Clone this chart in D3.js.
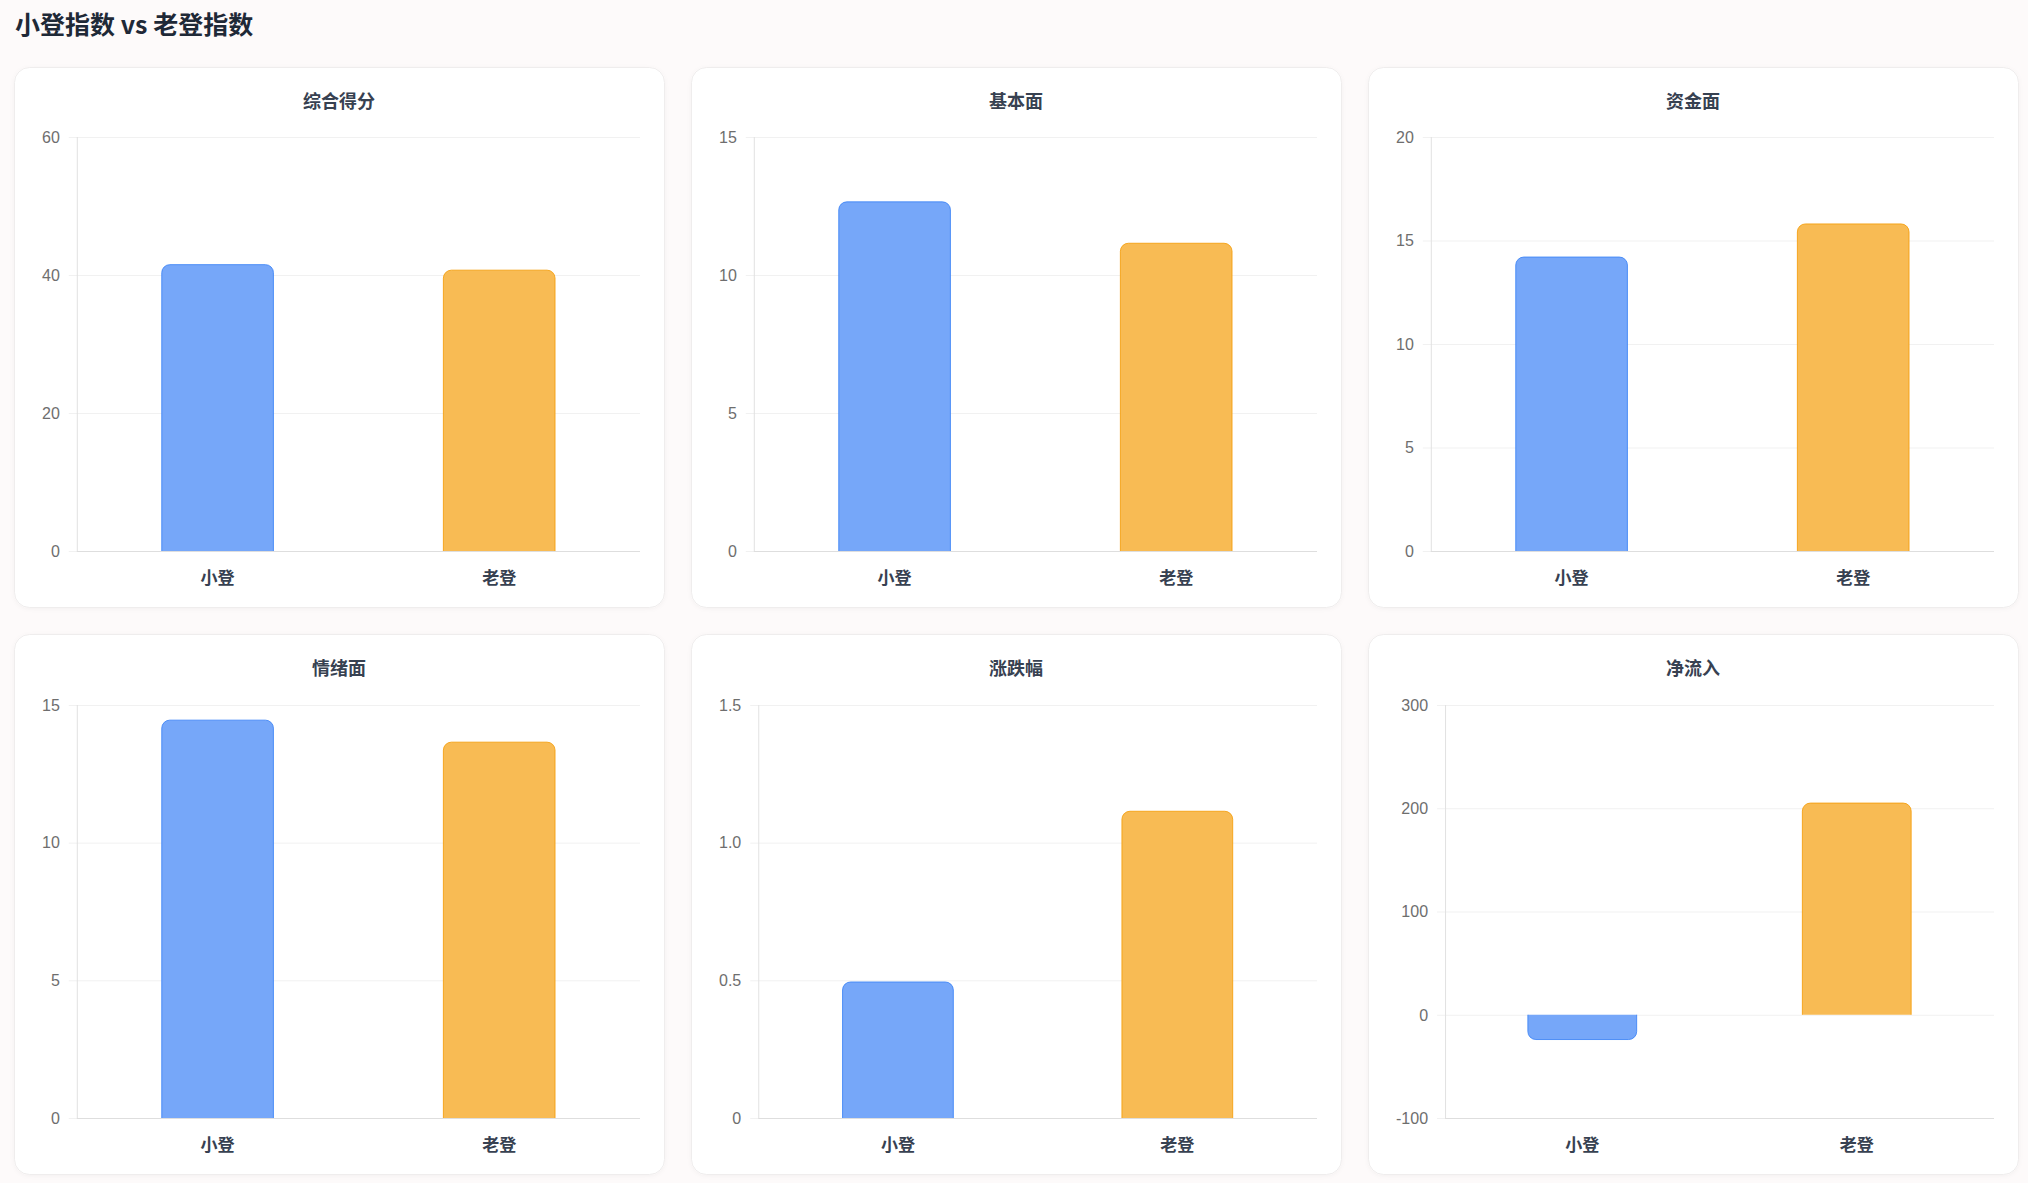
<!DOCTYPE html>
<html>
<head>
<meta charset="utf-8">
<script src="https://cdn.jsdelivr.net/npm/d3@7"></script>
<style>
  html, body { margin: 0; padding: 0; background: #fdfafa; }
  svg { display: block; }
</style>
</head>
<body>
<div id="chart"></div>
<script>
// chart data
var pageTitle = "小登指数 vs 老登指数";
var categories = ["小登", "老登"];
var panelTitles = ["综合得分", "基本面", "资金面", "情绪面", "涨跌幅", "净流入"];
var xiaodengValues = [41.5, 12.65, 14.2, 14.45, 0.494, -24];
var laodengValues = [40.7, 11.15, 15.8, 13.65, 1.114, 205];
var yTicks = [
  [0, 20, 40, 60],
  [0, 5, 10, 15],
  [0, 5, 10, 15, 20],
  [0, 5, 10, 15],
  [0, 0.5, 1.0, 1.5],
  [-100, 0, 100, 200, 300]
];
var tickDecimals = [0, 0, 0, 0, 1, 0];

var W = 2028, H = 1183;
var cardX = [14, 691, 1368], cardY = [67, 634];
var cardW = 650, cardH = 540;
var fills = ["#76a7f9", "#f8bb54"];
var strokes = ["#3b82f6", "#f59e0b"];

var svg = d3.select("#chart")
  .append("svg")
  .attr("width", W)
  .attr("height", H);

svg.append("rect")
  .attr("width", W).attr("height", H)
  .attr("fill", "#fdfafa");

var defs = svg.append("defs");
var shadow = defs.append("filter").attr("id", "cardShadow")
  .attr("x", "-5%").attr("y", "-5%").attr("width", "110%").attr("height", "110%");
shadow.append("feDropShadow")
  .attr("dx", 0).attr("dy", 1).attr("stdDeviation", 2)
  .attr("flood-color", "#000").attr("flood-opacity", 0.04);

svg.append("text")
  .attr("x", 15)
  .attr("y", 34)
  .attr("font-family", "'Noto Sans CJK SC', 'Noto Sans', sans-serif")
  .attr("font-size", 25)
  .attr("font-weight", 700)
  .attr("fill", "#1f2937")
  .text(pageTitle);

// rounded bar path: round the end away from zero
function barPath(x0, w, yBase, yEnd, r) {
  var p = d3.path();
  var h = Math.abs(yEnd - yBase);
  r = Math.min(r, h, w / 2);
  if (yEnd <= yBase) {
    p.moveTo(x0, yBase);
    p.lineTo(x0, yEnd + r);
    p.arcTo(x0, yEnd, x0 + r, yEnd, r);
    p.lineTo(x0 + w - r, yEnd);
    p.arcTo(x0 + w, yEnd, x0 + w, yEnd + r, r);
    p.lineTo(x0 + w, yBase);
  } else {
    p.moveTo(x0, yBase);
    p.lineTo(x0, yEnd - r);
    p.arcTo(x0, yEnd, x0 + r, yEnd, r);
    p.lineTo(x0 + w - r, yEnd);
    p.arcTo(x0 + w, yEnd, x0 + w, yEnd - r, r);
    p.lineTo(x0 + w, yBase);
  }
  return p.toString();
}

panelTitles.forEach(function (title, i) {
  var cx = cardX[i % 3], cy = cardY[Math.floor(i / 3)];
  var card = svg.append("g").attr("transform", "translate(" + cx + "," + cy + ")");

  card.append("rect")
    .attr("x", 0.5).attr("y", 0.5)
    .attr("width", cardW).attr("height", cardH)
    .attr("rx", 15).attr("ry", 15)
    .attr("fill", "#ffffff")
    .attr("stroke", "#efeded")
    .attr("filter", "url(#cardShadow)");

  card.append("text")
    .attr("x", cardW / 2)
    .attr("y", 41)
    .attr("text-anchor", "middle")
    .attr("font-family", "'Noto Sans CJK SC', sans-serif")
    .attr("font-size", 18)
    .attr("font-weight", 700)
    .attr("fill", "#374151")
    .text(title);

  var ticks = yTicks[i];
  var dec = tickDecimals[i];
  var fmt = function (d) { return d === 0 ? "0" : d.toFixed(dec); };

  // measure tick labels to place the y axis like the reference
  var probe = card.append("g");
  var maxW = 0;
  ticks.forEach(function (t) {
    var node = probe.append("text")
      .attr("font-family", "'Liberation Sans', Arial, sans-serif")
      .attr("font-size", 16)
      .text(fmt(t)).node();
    maxW = Math.max(maxW, node.getComputedTextLength());
  });
  probe.remove();

  var left = 28 + maxW + 17, right = 626;
  var top = i < 3 ? 70 : 71, bottom = 484;

  var x = d3.scaleBand().domain(categories).range([left, right]);
  var y = d3.scaleLinear()
    .domain([d3.min(ticks), d3.max(ticks)])
    .range([bottom, top]);

  // grid lines with tick marks
  card.append("g")
    .selectAll("line")
    .data(ticks)
    .enter()
    .append("line")
      .attr("x1", left - 8)
      .attr("x2", right)
      .attr("y1", function (d) { return y(d) + 0.5; })
      .attr("y2", function (d) { return y(d) + 0.5; })
      .attr("stroke", "#f1f1f1")
      .attr("stroke-width", 1);

  // y axis labels
  card.append("g")
    .selectAll("text")
    .data(ticks)
    .enter()
    .append("text")
      .attr("x", left - 17)
      .attr("y", function (d) { return y(d); })
      .attr("dy", "0.36em")
      .attr("text-anchor", "end")
      .attr("font-family", "'Liberation Sans', Arial, sans-serif")
      .attr("font-size", 16)
      .attr("fill", "#6e6e6e")
      .text(function (d) { return fmt(d); });

  // axis borders
  card.append("line")
    .attr("x1", left + 0.5).attr("x2", left + 0.5)
    .attr("y1", top).attr("y2", bottom)
    .attr("stroke", "#e2e2e2");
  card.append("line")
    .attr("x1", left).attr("x2", right)
    .attr("y1", bottom + 0.5).attr("y2", bottom + 0.5)
    .attr("stroke", "#dedede");

  // bars
  var vals = [xiaodengValues[i], laodengValues[i]];
  var bw = x.bandwidth() * 0.4;
  card.append("g")
    .selectAll("path")
    .data(vals)
    .enter()
    .append("path")
      .attr("d", function (d, j) {
        var x0 = x(categories[j]) + (x.bandwidth() - bw) / 2;
        return barPath(x0 + 0.5, bw - 1, y(0), y(d), 8);
      })
      .attr("fill", function (d, j) { return fills[j]; })
      .attr("stroke", function (d, j) { return strokes[j]; })
      .attr("stroke-width", 1)
      .attr("stroke-opacity", 0.85);

  // category labels
  card.append("g")
    .selectAll("text")
    .data(categories)
    .enter()
    .append("text")
      .attr("x", function (d) { return x(d) + x.bandwidth() / 2; })
      .attr("y", 511)
      .attr("dy", "0.36em")
      .attr("text-anchor", "middle")
      .attr("font-family", "'Noto Sans CJK SC', sans-serif")
      .attr("font-size", 17)
      .attr("font-weight", 700)
      .attr("fill", "#374151")
      .text(function (d) { return d; });
});
</script>
</body>
</html>
